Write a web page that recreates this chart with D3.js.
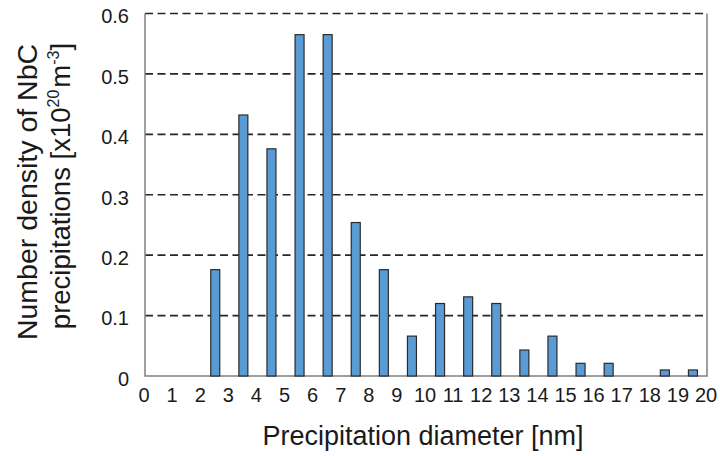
<!DOCTYPE html>
<html><head><meta charset="utf-8">
<script src="https://cdn.jsdelivr.net/npm/d3@7"></script>
<style>body{margin:0;background:#fff}svg{display:block}text{font-family:"Liberation Sans",Arial,sans-serif;fill:#1a1a1a}</style>
</head><body><svg id="c" width="720" height="456"></svg>
<script>
const binCenters = [0.5,1.5,2.5,3.5,4.5,5.5,6.5,7.5,8.5,9.5,10.5,11.5,12.5,13.5,14.5,15.5,16.5,17.5,18.5,19.5];
const densities  = [0,0,0.176,0.432,0.376,0.565,0.565,0.254,0.176,0.066,0.12,0.131,0.12,0.043,0.066,0.021,0.021,0,0.01,0.01];
const xTicks = d3.range(0,21);
const yTicks = [0,0.1,0.2,0.3,0.4,0.5,0.6];

const svg = d3.select("#c");
const m = {l:145, r:707, t:13.5, b:376};
const x = d3.scaleLinear().domain([0,20]).range([m.l,m.r]);
const y = d3.scaleLinear().domain([0,0.6]).range([m.b,m.t]);

// gridlines
svg.append("g").selectAll("line").data(yTicks.filter(d=>d>0)).join("line")
  .attr("x1",m.l).attr("x2",m.r).attr("y1",d=>y(d)).attr("y2",d=>y(d))
  .attr("stroke","#262626").attr("stroke-width",1.7).attr("stroke-dasharray","8,4.5");

// frame: left, bottom, right
svg.append("path").attr("d",`M${m.l},${m.t}V${m.b}H${m.r}V${m.t}`)
  .attr("fill","none").attr("stroke","#808080").attr("stroke-width",1.5);

// bars
const bw = 9;
svg.append("g").selectAll("rect").data(binCenters.map((c,i)=>({c,v:densities[i]})).filter(d=>d.v>0)).join("rect")
  .attr("x",d=>x(d.c)-bw/2).attr("width",bw)
  .attr("y",d=>y(d.v)).attr("height",d=>y(0)-y(d.v))
  .attr("fill","#5b9bd5").attr("stroke","#2b2b2b").attr("stroke-width",1.2);

const tf = "Liberation Sans, Arial, sans-serif";
// y axis labels
const ya = d3.axisLeft(y).tickValues(yTicks).tickSize(0).tickPadding(16).tickFormat(d=>d===0?"0":d3.format(".1f")(d));
svg.append("g").attr("transform",`translate(${m.l},3)`).call(ya)
  .call(g=>g.select(".domain").remove())
  .selectAll("text").attr("font-size",20).attr("font-family",tf).attr("fill","#1a1a1a");

// x axis labels
const xa = d3.axisBottom(x).tickValues(xTicks).tickSize(0).tickPadding(12).tickFormat(d3.format("d"));
svg.append("g").attr("transform",`translate(-1.5,${m.b})`).call(xa)
  .call(g=>g.select(".domain").remove())
  .selectAll("text").attr("font-size",20).attr("font-family",tf).attr("fill","#1a1a1a");

// x title
svg.append("text").attr("x",423).attr("y",445).attr("text-anchor","middle").attr("font-size",27).text("Precipitation diameter [nm]");

// y title
const yt = svg.append("g").attr("transform","translate(0,192) rotate(-90)");
yt.append("text").attr("x",0).attr("y",37).attr("text-anchor","middle").attr("font-size",28.5).text("Number density of NbC");
const t2 = yt.append("text").attr("x",6).attr("y",70).attr("text-anchor","middle").attr("font-size",27.5);
t2.append("tspan").text("precipitations [x10");
t2.append("tspan").attr("font-size",16).attr("dy",-11).text("20");
t2.append("tspan").attr("dy",11).attr("dx",2).text("m");
t2.append("tspan").attr("font-size",16).attr("dy",-11).text("-3");
t2.append("tspan").attr("dy",11).text("]");
</script></body></html>
